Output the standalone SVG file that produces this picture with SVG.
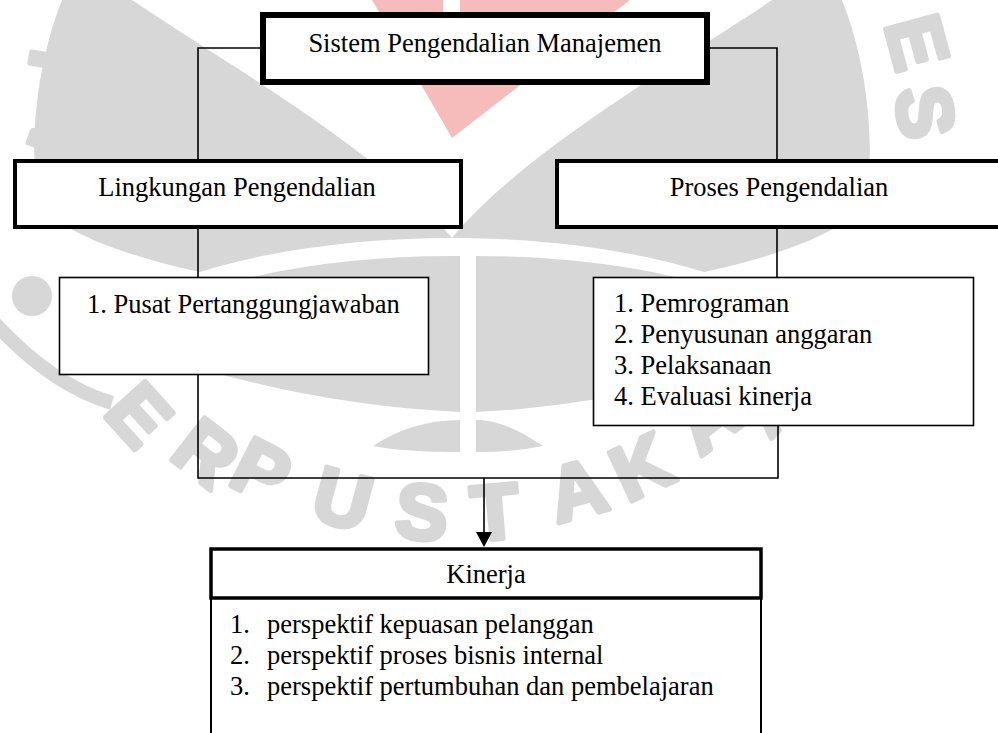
<svg xmlns="http://www.w3.org/2000/svg" width="998" height="733" viewBox="0 0 998 733">
<style>
.box{fill:#ffffff;stroke:#000000}
.thick{stroke-width:4}
.top{stroke-width:6}
.thin{stroke-width:1.6}
.lbl{font-family:"Liberation Serif","Times New Roman",serif;font-size:26.5px;fill:#000000}
.mid{text-anchor:middle}
.conn{fill:none;stroke:#000000;stroke-width:1.6}
.wm{fill:#d7d7d7}
.wmt{font-family:"Liberation Sans",Arial,sans-serif;font-weight:bold;font-size:78px;fill:#d7d7d7;stroke:#d7d7d7;stroke-width:5;stroke-linejoin:round;text-anchor:middle}
</style>
<rect x="0" y="0" width="998" height="733" fill="#ffffff"/>
<g id="watermark">
<polygon points="372,0 630,0 452,138" fill="#f6bcbc"/>
<rect x="443" y="0" width="17" height="14" fill="#ffffff"/>
<path class="wm" d="M62,0 L132,0 C220,60 380,150 452,238 C360,238 270,250 200,272 C120,255 60,230 38,205 C28,140 38,60 62,0 Z"/>
<path class="wm" d="M842,0 L772,0 C684,60 524,150 452,238 C544,238 634,250 704,272 C784,255 844,230 866,205 C876,140 866,60 842,0 Z"/>
<path class="wm" d="M452,256 C360,256 270,268 200,292 C150,300 100,310 70,318 C150,360 300,405 460,412 L460,256 Z"/>
<path class="wm" d="M476,256 C568,256 658,268 728,292 C778,300 828,310 858,318 C778,360 628,405 476,412 Z"/>
<path class="wm" d="M373,446 C400,428 430,420 460,420 L460,452 C420,452 395,450 373,446 Z"/>
<path class="wm" d="M543,446 C516,428 496,420 476,420 L476,452 C506,452 521,450 543,446 Z"/>
<circle class="wm" cx="32" cy="296" r="20"/>
<path d="M-10,318 Q50,385 112,403" fill="none" stroke="#d7d7d7" stroke-width="14"/>
<text class="wmt" transform="translate(140,414) rotate(48)" dy="28">E</text>
<text class="wmt" transform="translate(207,452) rotate(38)" dy="28">R</text>
<text class="wmt" transform="translate(262,470) rotate(27)" dy="28">P</text>
<text class="wmt" transform="translate(343,498) rotate(15)" dy="28">U</text>
<text class="wmt" transform="translate(422,511) rotate(5)" dy="28">S</text>
<text class="wmt" transform="translate(495,511) rotate(-5)" dy="28">T</text>
<text class="wmt" transform="translate(577,489) rotate(-15)" dy="28">A</text>
<text class="wmt" transform="translate(641,466) rotate(-25)" dy="28">K</text>
<text class="wmt" transform="translate(706,418) rotate(-37)" dy="28">A</text>
<text class="wmt" transform="translate(770,400) rotate(-45)" dy="28">A</text>
<text class="wmt" transform="translate(56,62) rotate(-80)" dy="28">I</text>
<text class="wmt" transform="translate(60,130) rotate(-70)" dy="28">N</text>
<text class="wmt" transform="translate(918,42) rotate(75)" dy="28">E</text>
<text class="wmt" transform="translate(926,112) rotate(82)" dy="28">S</text>
<text class="wmt" transform="translate(956,200) rotate(90)" dy="28">I</text>
</g>
<g id="connectors">
<path class="conn" d="M260,48 H198 V159"/>
<path class="conn" d="M710,48 H777 V159"/>
<path class="conn" d="M198,229 V277"/>
<path class="conn" d="M777,229 V277"/>
<path class="conn" d="M198,375 V478 H778 V426"/>
<path class="conn" d="M484,478 V533"/>
<polygon points="476,532 492,532 484,547" fill="#000000"/>
</g>
<g id="sistem">
<rect class="box top" x="263" y="15" width="444" height="67"/>
<text class="lbl mid" x="485" y="52">Sistem Pengendalian Manajemen</text>
</g>
<g id="lingkungan">
<rect class="box thick" x="15" y="161" width="446" height="66"/>
<text class="lbl mid" x="237" y="196">Lingkungan Pengendalian</text>
</g>
<g id="proses">
<rect class="box thick" x="557" y="161" width="446" height="66"/>
<text class="lbl mid" x="779" y="196">Proses Pengendalian</text>
</g>
<g id="pusat">
<rect class="box thin" x="59.5" y="277.5" width="369" height="97"/>
<text class="lbl" x="87" y="313">1. Pusat Pertanggungjawaban</text>
</g>
<g id="proses-list">
<rect class="box thin" x="593.5" y="277.5" width="380" height="148"/>
<text class="lbl" x="614" y="312">1. Pemrograman</text>
<text class="lbl" x="614" y="343">2. Penyusunan anggaran</text>
<text class="lbl" x="614" y="374">3. Pelaksanaan</text>
<text class="lbl" x="614" y="405">4. Evaluasi kinerja</text>
</g>
<g id="kinerja">
<rect class="box" x="211" y="598" width="550" height="150" stroke-width="2"/>
<rect class="box" x="211" y="549" width="550" height="49" stroke-width="3.5"/>
<text class="lbl mid" x="486" y="583">Kinerja</text>
<text class="lbl" x="230" y="633">1.</text>
<text class="lbl" x="267" y="633">perspektif kepuasan pelanggan</text>
<text class="lbl" x="230" y="664">2.</text>
<text class="lbl" x="267" y="664">perspektif proses bisnis internal</text>
<text class="lbl" x="230" y="695">3.</text>
<text class="lbl" x="267" y="695">perspektif pertumbuhan dan pembelajaran</text>
</g>
</svg>
